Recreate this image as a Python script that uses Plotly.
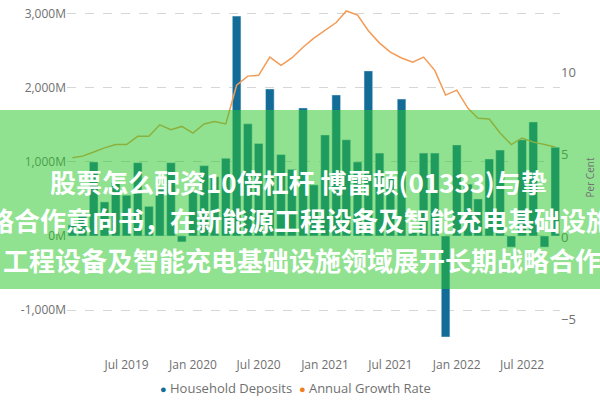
import plotly.graph_objects as go

months = [
    "2019-02-01", "2019-03-01", "2019-04-01", "2019-05-01", "2019-06-01", "2019-07-01",
    "2019-08-01", "2019-09-01", "2019-10-01", "2019-11-01", "2019-12-01", "2020-01-01",
    "2020-02-01", "2020-03-01", "2020-04-01", "2020-05-01", "2020-06-01", "2020-07-01",
    "2020-08-01", "2020-09-01", "2020-10-01", "2020-11-01", "2020-12-01", "2021-01-01",
    "2021-02-01", "2021-03-01", "2021-04-01", "2021-05-01", "2021-06-01", "2021-07-01",
    "2021-08-01", "2021-09-01", "2021-10-01", "2021-11-01", "2021-12-01", "2022-01-01",
    "2022-02-01", "2022-03-01", "2022-04-01", "2022-05-01", "2022-06-01", "2022-07-01",
    "2022-08-01", "2022-09-01", "2022-10-01",
]
household_deposits = [
    150, 300, 1000, 460, 720, 550,
    990, 400, 650, 990, -80, 600,
    950, 800, 1050, 2970, 1515, 1250,
    1986, 1100, 900, 1730, 690, 1365,
    1905, 1300, 1000, 2230, 1120, 800,
    1850, 50, 1120, 1120, -1365, 1230,
    700, 500, 1040, 1160, -150, 1300,
    1540, -150, 1200,
]
annual_growth_rate = [
    4.8, 4.9, 5.15, 5.4, 5.6, 5.6,
    6.1, 6.1, 6.8, 6.5, 6.7, 6.3,
    6.85, 7.0, 6.85, 9.2, 9.75, 9.8,
    10.9, 10.4, 10.85, 11.5, 12.05, 12.5,
    13.0, 13.7, 13.45, 12.5, 11.75, 11.2,
    10.85, 10.6, 10.9, 10.1, 8.6, 8.9,
    7.8, 7.2, 7.15, 6.3, 5.6, 6.0,
    5.75, 5.6, 5.45,
]
left_ticks = [-1000, 0, 1000, 2000, 3000]
left_tick_text = ["-1,000M", "0M", "1,000M", "2,000M", "3,000M"]
right_ticks = [-5, 0, 5, 10]
series_names = ["Household Deposits", "Annual Growth Rate"]
banner_lines = [
    "股票怎么配资10倍杠杆 博雷顿(01333)与挚",
    "略合作意向书，在新能源工程设备及智能充电基础设施",
    "工程设备及智能充电基础设施领域展开长期战略合作",
]

BAR_C = "#136C97"
LINE_C = "#F39A55"
DOT2_C = "#F07F22"
TICK_C = "#707070"
FONT = "Open Sans"
CJK = "Noto Sans CJK SC"

fig = go.Figure()
fig.add_trace(go.Bar(
    x=months, y=household_deposits, name=series_names[0],
    marker_color=BAR_C, width=24 * 86400000, showlegend=False, yaxis="y",
))
fig.add_trace(go.Scatter(
    x=months, y=annual_growth_rate, name=series_names[1], mode="lines",
    line=dict(color=LINE_C, width=1.5), showlegend=False, yaxis="y2",
))

# plot area: x 67..560, y 5..350
L, R, T, B = 67, 40, 5, 50
pw = 600 - L - R
ph = 400 - T - B

def px_x(x):
    return (x - L) / pw

def px_y(y):
    return (400 - B - y) / ph

shapes = [dict(
    type="rect", xref="paper", yref="paper",
    x0=px_x(-5), x1=px_x(605), y0=px_y(289), y1=px_y(110),
    fillcolor="rgba(42,199,42,0.52)", line=dict(width=0), layer="above",
)]

annotations = []
bfont = dict(family=CJK, size=26, color="white", weight="bold")
annotations.append(dict(text=banner_lines[0], xref="paper", yref="paper",
                        x=px_x(298), y=px_y(182), xanchor="center", yanchor="middle",
                        showarrow=False, font=bfont))
annotations.append(dict(text=banner_lines[1], xref="paper", yref="paper",
                        x=px_x(300), y=px_y(219), xanchor="center", yanchor="middle",
                        showarrow=False, font=bfont))
annotations.append(dict(text=banner_lines[2], xref="paper", yref="paper",
                        x=px_x(1), y=px_y(259), xanchor="left", yanchor="middle",
                        showarrow=False, font=bfont))

# compact legend
legend_text = (
    f'<span style="color:{BAR_C};font-size:11px">●</span> {series_names[0]}'
    f'  <span style="color:{DOT2_C};font-size:11px">●</span> {series_names[1]}'
)
annotations.append(dict(text=legend_text, xref="paper", yref="paper",
                        x=px_x(295), y=px_y(388), xanchor="center", yanchor="middle",
                        showarrow=False, font=dict(family=FONT, size=13, color=TICK_C)))

fig.update_layout(
    width=600, height=400,
    margin=dict(l=L, r=R, t=T, b=B),
    paper_bgcolor="white", plot_bgcolor="white",
    font=dict(family=FONT, size=12, color=TICK_C),
    xaxis=dict(
        type="date", range=["2019-01-17", "2022-10-14"],
        tick0="2019-07-01", dtick="M6", tickformat="%b %Y",
        showgrid=False, zeroline=False, showline=False, ticks="",
        tickfont=dict(size=12, color=TICK_C), ticklabelstandoff=6,
    ),
    yaxis=dict(
        range=[-1540, 3120], tickvals=left_ticks, ticktext=left_tick_text,
        showgrid=True, gridcolor="#d6d6d6", griddash="dash", gridwidth=1,
        zeroline=False, showline=False, ticks="",
        tickfont=dict(size=12, color=TICK_C),
    ),
    yaxis2=dict(
        range=[-6.85, 14.06], tickvals=right_ticks, overlaying="y", side="right",
        showgrid=False, zeroline=False, showline=False, ticks="",
        tickfont=dict(size=13, color=TICK_C),
        title=dict(text="Per Cent", font=dict(size=10, color=TICK_C), standoff=12),
    ),
    showlegend=False,
    bargap=0.2,
    shapes=shapes,
    annotations=annotations,
)

fig.write_html("out.html")
